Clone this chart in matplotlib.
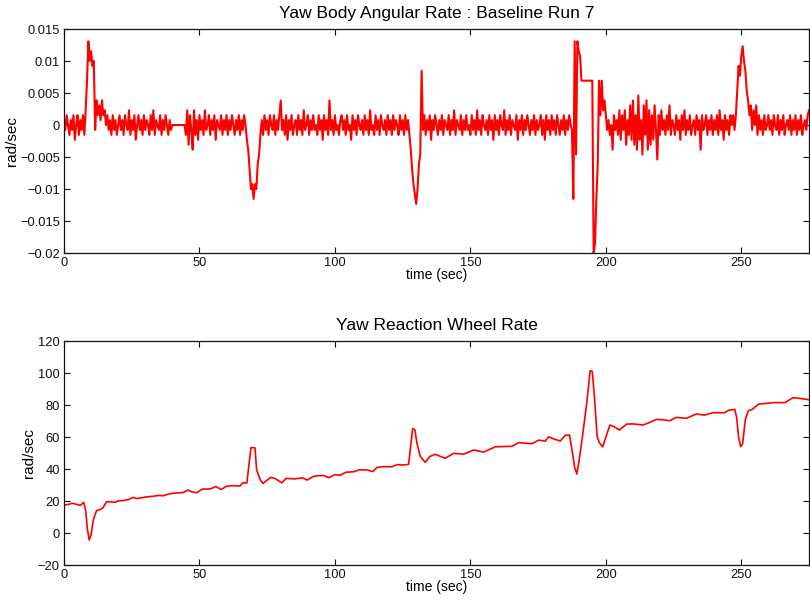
import numpy as np
import matplotlib.pyplot as plt

plt.rcParams["font.family"] = ["Liberation Sans", "DejaVu Sans"]

# --- top panel: yaw body rate, sampled every 0.5 s, in ADC counts ------------
RATE_STEP = 0.5          # sec
RATE_QUANTUM = 0.00077   # rad/sec per count
rate_counts = [
    1, -1, 2, 0, -2, 1, -1, 2, -3, 0, 2, -2, 1, -1, 2, -2, 3, 9, 17, 13,          # 0
    15, 12, 13, -1, 5, 2, 4, 1, 5, 2, 3, 0, 2, -1, 1, -2, 2, -1, 1, -2,           # 10
    0, 2, -1, 1, -2, 2, 0, -1, 3, -2, 1, -1, 2, -3, 0, 2, -1, 1, -2, 2,           # 20
    -1, 1, 0, -2, 2, -1, 3, -2, 1, 0, -1, 2, -2, 1, -1, 2, 0, -2, 1, -1,          # 30
    0, 0, 0, 0, 0, 0, 0, 0, 0, 0, -2, 3, -4, 2, -1, -5, 3, -2, 1, -3,             # 40
    2, -1, 1, -2, 3, -1, 0, 2, -2, 1, -1, 2, -3, 1, 0, -1, 2, -2, 1, -1,          # 50
    2, -2, 1, -1, 2, 0, -2, 1, -1, 2, -2, 1, -1, 2, 0, -3, -5, -9, -13, -12,      # 60
    -15, -12, -13, -8, -6, -2, 1, -2, 2, -1, 1, -2, 2, 0, -1, 2, -2, 1, -1, 2,    # 70
    5, -1, 1, -2, 2, -3, 1, -1, 2, -2, 0, 1, -2, 2, -1, 1, -2, 3, -1, 0,          # 80
    2, -2, 1, -1, 2, -1, 0, -2, 2, -1, 1, -3, 2, -1, 1, -2, 5, -1, 1, -2,         # 90
    2, -1, 0, -2, 1, 2, -1, 1, -2, 2, -1, 0, -3, 2, -1, 1, -2, 2, 0, -1,          # 100
    1, -2, 2, -1, 1, -2, 3, -1, 0, -2, 2, -1, 1, -2, 2, 0, -1, 1, -2, 2,          # 110
    -1, 1, -2, 2, -1, 1, 0, -2, 2, -1, 1, -2, 2, -1, 1, -2, -5, -9, -12, -14,     # 120
    -16, -13, -8, -6, 11, -1, 2, -2, 1, -1, 2, -3, 1, -1, 2, 0, -2, 1, -1, 2,     # 130
    -2, 1, 0, -1, 2, -2, 1, -1, 3, -2, 1, 0, -1, 2, -2, 1, -1, 2, -1, 0,          # 140
    -2, 2, -1, 1, -2, 3, -1, 1, -2, 2, 0, -1, 1, -2, 2, -1, 1, -3, 2, -1,         # 150
    1, -2, 2, 0, -1, 3, -2, 1, -1, 2, -2, 1, 0, -1, 2, -3, 1, -1, 2, -2,          # 160
    1, -1, 2, 0, -2, 1, -1, 2, -2, 1, -1, 0, 2, -2, 1, -3, 2, -1, 1, -2,          # 170
    2, -1, 1, -2, 2, 0, -2, 1, -1, 2, -2, 1, -1, 2, 0, -1, -15, 17, -6, 17,       # 180
    15, 14, 9, 9, 9, 9, 9, 9, 9, 9, 9, -26, -24, -15, -8, 9, 2, 9, 3, 5,          # 190
    2, -1, 1, -2, 0, -5, 2, -1, 1, -2, 3, -3, 2, -1, 3, -4, 1, -2, 4, -3,         # 200
    5, -4, 2, -5, 6, -3, 1, -6, 4, -2, 5, -5, 3, -4, 2, -3, 4, -1, -7, 2,         # 210
    -2, 3, -1, 1, -2, 2, -1, 4, -2, 1, 0, -2, 2, -1, 1, -3, 2, -1, 3, -2,         # 220
    1, -1, 2, -2, 0, 1, -2, 2, -1, 1, -5, 2, -1, 0, 2, -2, 1, -1, 2, -2,          # 230
    1, -1, 2, -2, 3, -1, 1, -3, 2, -1, 1, -2, 2, 0, 2, -1, 2, 7, 12, 10,          # 240
    14, 16, 13, 11, 7, 5, 2, 4, -1, 3, 0, 4, -2, 2, -1, 1, -2, 2, -1, 0,          # 250
    2, -1, 1, -2, 2, 0, -1, 2, -2, 1, -1, 2, -2, 0, 1, -1, 2, -2, 1, -1,          # 260
    2, -2, 1, -1, 2, -2, 0, 1, -1, 2, 3,                                          # 270
]

# --- bottom panel: reaction wheel rate (rad/sec) ------------------------------
wheel_t = [
    0, 1.5, 3, 4.5, 6, 7.3, 8, 8.6, 9.3, 10, 10.8, 12, 13.5, 14.5, 15.7, 17, 19,
    20, 22, 24, 25.5, 27, 28.5, 30, 33, 35, 36.5, 39, 41, 44, 45.7, 47, 49, 51,
    54, 56, 58, 60, 62, 65, 66, 67.5, 68.1, 69, 70.5, 71.1, 72.5, 73.5, 75, 76.3,
    78, 80.4, 82, 85, 88, 89.8, 92, 93.5, 96, 97.8, 100, 102, 104, 107, 109, 112,
    114, 115.5, 118, 121, 123, 125, 127.2, 127.8, 128.7, 129.5, 130.3, 131.5,
    133.3, 135, 137, 140.7, 143.8, 147.5, 151.2, 154.9, 159.2, 165.3, 167.8,
    172.7, 175.2, 177.6, 178.9, 180.5, 183.2, 185, 186.6, 187.7, 188.5, 189.3,
    190.1, 191.5, 193, 194.2, 195.0, 195.8, 196.8, 197.6, 198.8, 200, 201.5, 203,
    205, 207.7, 210, 213.8, 216, 218.7, 221, 223.6, 226, 229.7, 231.5, 233.4,
    236.4, 239.5, 243.8, 245.5, 247.6, 248.3, 249, 249.8, 250.5, 251.5, 252.6,
    254, 255.2, 256.4, 258.5, 261.9, 266.2, 267.5, 269.2, 272.3, 275,
]
wheel_rate = [
    17.5, 17.8, 18.6, 18, 17.2, 19.2, 14, 3, -4.4, -1, 8, 14, 14.8, 16, 19.6,
    19.5, 19.2, 20.2, 20.3, 21, 22.3, 21.5, 22, 22.5, 23, 23.5, 23.3, 24.5, 25,
    25.3, 26.9, 25.8, 25.2, 27.4, 27.6, 29, 27.2, 29.2, 29.6, 29.4, 31.4, 31.2,
    40, 53.4, 53.2, 39.4, 33, 31, 33, 34.8, 34, 31.4, 34.2, 33.8, 34.5, 33.1,
    35.4, 35.8, 35.9, 34.6, 36.5, 36.1, 38, 38.3, 39.5, 39.4, 38.4, 41, 41.5,
    41.4, 42.8, 42.5, 42.9, 52, 65.4, 64.5, 56, 48, 44.2, 47.8, 49.2, 46.7,
    49.8, 49.3, 51.9, 50.6, 53.9, 54.2, 56.5, 55.8, 58.1, 57.4, 60.2, 59, 57.5,
    61, 61.3, 50, 41, 36.9, 45, 62, 82, 101.4, 101, 85, 60, 56.5, 53.9, 60, 67.5,
    66.5, 64.4, 68.1, 68.2, 67.5, 69, 71, 70.8, 70.2, 72.3, 71.7, 73, 74.4, 73.7,
    75.2, 75.2, 76.8, 77.3, 72, 60, 54, 56, 71, 76.5, 77.2, 78.9, 80.6, 80.9,
    81.5, 81.5, 83, 84.6, 84, 83.3,
]

RED = "#ff0000"


def style_axes(ax):
    ax.tick_params(direction="in", length=4, top=True, right=True,
                   labelsize=9.3, colors="#111111", pad=3)
    for sp in ax.spines.values():
        sp.set_linewidth(0.9)
        sp.set_color("#111111")


def main():
    t_rate = np.arange(len(rate_counts)) * RATE_STEP
    rate = np.array(rate_counts, dtype=float) * RATE_QUANTUM

    fig = plt.figure(figsize=(8.1, 6.0), dpi=100)

    ax1 = fig.add_axes([0.079, 0.5783, 0.9198, 0.3733])
    ax1.plot(t_rate, rate, color=RED, lw=1.5)
    ax1.set_xlim(0, 275)
    ax1.set_ylim(-0.02, 0.015)
    ax1.set_xticks([0, 50, 100, 150, 200, 250])
    ax1.set_yticks([-0.02, -0.015, -0.01, -0.005, 0, 0.005, 0.01, 0.015])
    ax1.set_yticklabels(["\u22120.02", "\u22120.015", "\u22120.01", "\u22120.005",
                         "0", "0.005", "0.01", "0.015"])
    ax1.set_title("Yaw Body Angular Rate : Baseline Run 7", fontsize=12.5, pad=8)
    ax1.set_xlabel("time (sec)", fontsize=10, labelpad=-1)
    ax1.set_ylabel("rad/sec", fontsize=11, labelpad=1)
    style_axes(ax1)

    ax2 = fig.add_axes([0.079, 0.0583, 0.9198, 0.3733])
    ax2.plot(wheel_t, wheel_rate, color=RED, lw=1.2)
    ax2.set_xlim(0, 275)
    ax2.set_ylim(-20, 120)
    ax2.set_xticks([0, 50, 100, 150, 200, 250])
    ax2.set_yticks([-20, 0, 20, 40, 60, 80, 100, 120])
    ax2.set_yticklabels(["\u221220", "0", "20", "40", "60", "80", "100", "120"])
    ax2.set_title("Yaw Reaction Wheel Rate", fontsize=12.5, pad=8)
    ax2.set_xlabel("time (sec)", fontsize=10, labelpad=-1)
    ax2.set_ylabel("rad/sec", fontsize=11, labelpad=1)
    style_axes(ax2)

    fig.savefig("out.png", dpi=100)


if __name__ == "__main__":
    main()
